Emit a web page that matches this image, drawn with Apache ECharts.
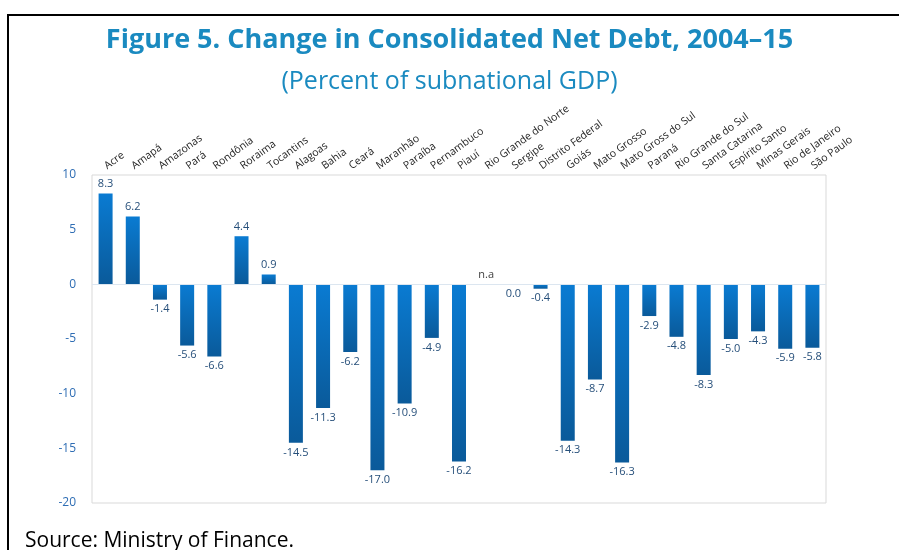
<!DOCTYPE html>
<html>
<head>
<meta charset="utf-8">
<script src="https://cdn.jsdelivr.net/npm/echarts@6/dist/echarts.min.js"></script>
<style>
html,body{margin:0;padding:0;background:#fff;}
#chart{width:899px;height:550px;}
</style>
</head>
<body>
<div id="chart"></div>
<script>
const categories = ["Acre","Amapá","Amazonas","Pará","Rondônia","Roraima","Tocantins","Alagoas","Bahia","Ceará","Maranhão","Paraíba","Pernambuco","Piauí","Rio Grande do Norte","Sergipe","Distrito Federal","Goiás","Mato Grosso","Mato Gross do Sul","Paraná","Rio Grande do Sul","Santa Catarina","Espírito Santo","Minas Gerais","Rio de Janeiro","São Paulo"];
const values = [8.3, 6.2, -1.4, -5.6, -6.6, 4.4, 0.9, -14.5, -11.3, -6.2, -17.0, -10.9, -4.9, -16.2, null, 0.0, -0.4, -14.3, -8.7, -16.3, -2.9, -4.8, -8.3, -5.0, -4.3, -5.9, -5.8];
const yTicks = [-20, -15, -10, -5, 0, 5, 10];

const chart = echarts.init(document.getElementById('chart'));
const grad = new echarts.graphic.LinearGradient(0, 0, 0, 1, [
  {offset: 0, color: '#0a7bd2'},
  {offset: 1, color: '#0a5a9a'}
]);
const barData = values.map(v => {
  if (v === null) {
    return {value: 0, itemStyle: {color: '#d9e2ec'},
      label: {show: true, position: 'top', formatter: 'n.a', color: '#404040'}};
  }
  return {value: v, label: {position: v > 0 ? 'top' : 'bottom'}};
});

chart.setOption({
  animation: false,
  title: [
    {text: 'Figure 5. Change in Consolidated Net Debt, 2004–15', left: 'center', top: 22,
     textStyle: {fontFamily: 'Open Sans', fontWeight: 'bold', fontSize: 27, color: '#1a8ac0'}},
    {text: '(Percent of subnational GDP)', left: 'center', top: 64,
     textStyle: {fontFamily: 'Open Sans', fontWeight: 'normal', fontSize: 25, color: '#1a8ac0'}}
  ],
  graphic: [
    {type: 'line', shape: {x1: 7, y1: 15, x2: 899, y2: 15}, style: {stroke: '#000', lineWidth: 2}},
    {type: 'line', shape: {x1: 8, y1: 14, x2: 8, y2: 550}, style: {stroke: '#000', lineWidth: 2}},
    {type: 'text', left: 25, top: 531, style: {text: 'Source: Ministry of Finance.', font: '21px "Open Sans"', fill: '#000'}}
  ],
  grid: {left: 92, right: 73, top: 175, bottom: 47, show: true, borderColor: '#d9d9d9', borderWidth: 1},
  xAxis: {
    type: 'category', position: 'top', data: categories,
    axisLine: {show: false}, axisTick: {show: false},
    axisLabel: {rotate: 36, interval: 0, margin: 8, fontSize: 10.5, color: '#262626', fontFamily: 'Open Sans'}
  },
  yAxis: {
    type: 'value', min: -20, max: 10, interval: 5,
    splitLine: {show: false}, axisLine: {show: false}, axisTick: {show: false},
    axisLabel: {margin: 16, fontSize: 12, color: '#2e6db4', fontFamily: 'Open Sans',
      formatter: v => yTicks.includes(v) ? String(v) : ''}
  },
  series: [{
    type: 'bar', data: barData, barWidth: 14,
    itemStyle: {color: grad},
    label: {show: true, fontSize: 11, color: '#264f7a', distance: 4, fontFamily: 'Open Sans',
      formatter: p => Number(p.value).toFixed(1)},
    markLine: {silent: true, symbol: 'none', label: {show: false},
      lineStyle: {color: '#dce6f0', type: 'solid', width: 1},
      data: [{yAxis: 0}]}
  }]
});
</script>
</body>
</html>
